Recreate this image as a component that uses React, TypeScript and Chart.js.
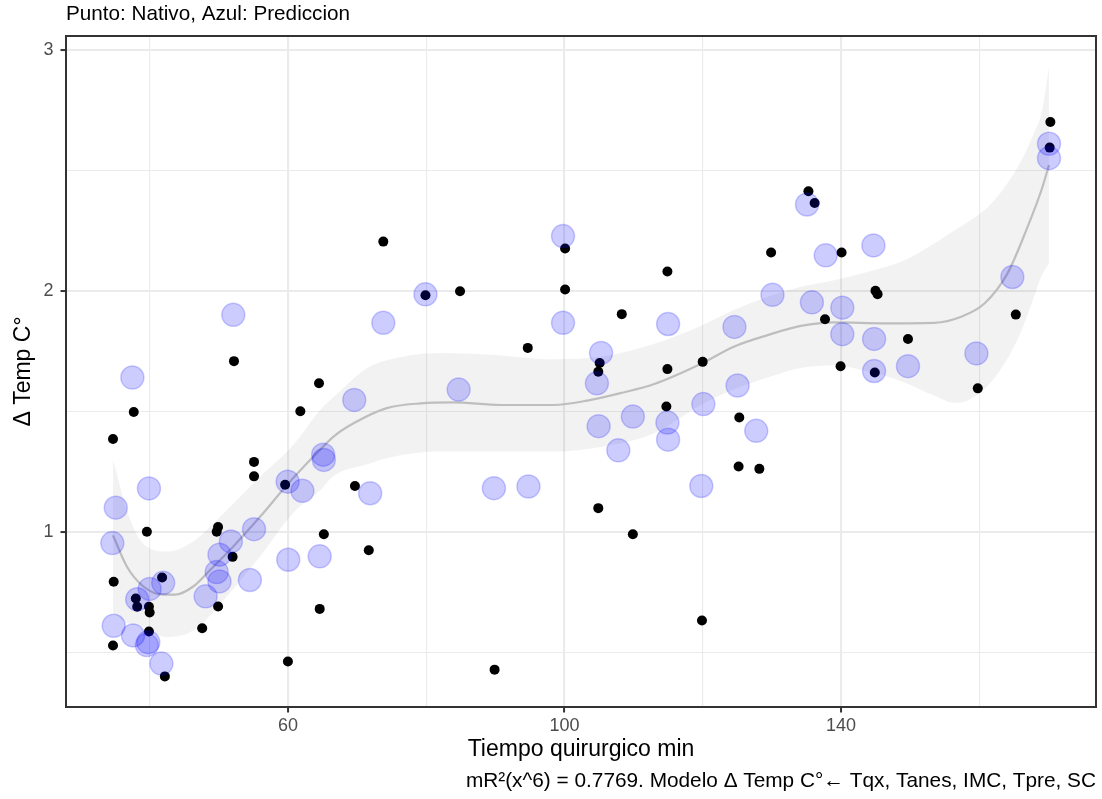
import React, { useEffect, useRef } from "react";
import { Chart, registerables } from "chart.js";

Chart.register(...registerables);

// ---------- data ----------
const nativeX = [
  34.7, 34.8, 34.7, 37.7, 38.0, 38.2, 39.6, 39.9, 40.0, 39.9, 41.8, 42.2, 47.6, 49.9, 49.9, 49.7,
  52.0, 52.2, 55.1, 55.1, 59.6, 60.0, 61.8, 64.5, 64.6, 65.2, 69.7, 71.7, 73.8, 79.9, 84.9, 89.9,
  94.7, 100.1, 100.1, 104.9, 105.1, 104.9, 108.3, 109.9, 114.9, 114.9, 114.75, 120.0, 119.9, 125.3,
  125.2, 128.2, 129.9, 135.3, 136.2, 137.7, 140.1, 139.95, 145.0, 145.3, 144.9, 149.7, 159.8, 165.3,
  170.2, 170.3,
];
const nativeY = [
  0.528, 0.793, 1.385, 1.497, 0.723, 0.689, 1.0, 0.689, 0.665, 0.586, 0.81, 0.4, 0.6, 0.69, 1.02, 1.0,
  0.896, 1.708, 1.29, 1.23, 1.195, 0.462, 1.5, 1.616, 0.68, 0.99, 1.19, 0.923, 2.204, 1.981, 1.998, 0.428,
  1.763, 2.175, 2.005, 1.098, 1.7, 1.664, 1.903, 0.99, 2.08, 1.675, 1.52, 1.705, 0.632, 1.474,
  1.271, 1.261, 2.159, 2.413, 2.364, 1.882, 2.159, 1.687, 2.0, 1.986, 1.661, 1.8, 1.595, 1.901,
  2.594, 2.7,
];

const predX = [
  37.5, 39.9, 35.1, 34.6, 34.8, 37.6, 38.2, 40.0, 41.96, 39.8, 39.6, 41.7, 48.1, 49.7, 50.1, 50.1,
  51.75, 52.1, 55.1, 54.5, 59.96, 62.1, 60.05, 65.1, 65.2, 64.6, 69.6, 71.9, 73.8, 79.9, 84.7, 89.8,
  94.8, 99.8, 99.8, 105.3, 104.7, 115.0, 109.9, 114.9, 115.0, 104.95, 120.1, 107.8, 119.8, 135.1,
  137.8, 144.7, 130.1, 135.8, 140.2, 140.2, 124.6, 144.8, 144.8, 149.7, 159.6, 164.8, 125.05, 127.75,
  170.1, 170.1,
];
const predY = [
  1.64, 1.18, 1.1, 0.953, 0.61, 0.57, 0.72, 0.763, 0.788, 0.542, 0.53, 0.453, 0.732, 0.833, 0.794, 0.905,
  0.96, 1.9, 1.011, 0.8, 1.208, 1.17, 0.884, 1.32, 1.298, 0.898, 1.547, 1.16, 1.867, 1.985, 1.59, 1.181,
  1.188, 2.227, 1.867, 1.742, 1.616, 1.862, 1.478, 1.453, 1.382, 1.438, 1.53, 1.338, 1.19, 2.358,
  2.147, 2.188, 1.983, 1.952, 1.93, 1.82, 1.85, 1.8, 1.667, 1.687, 1.74, 2.057, 1.607, 1.419,
  2.61, 2.55,
];

const smoothX = [
  34.7, 36.7, 39.1, 42.0, 43.7, 46.3, 48.8, 52.1, 56.0, 59.9, 63.7, 66.6, 69.5, 74.3, 79.2, 83.9,
  90.8, 98.5, 103.3, 108.1, 113.0, 119.7, 124.5, 129.4, 134.2, 139.0, 146.3, 153.5, 157.4, 160.8,
  164.1, 167.0, 169.0, 170.1,
];
const smoothY = [
  0.985, 0.856, 0.773, 0.739, 0.739, 0.773, 0.843, 0.939, 1.063, 1.195, 1.312, 1.395, 1.45, 1.513, 1.533, 1.537,
  1.526, 1.526, 1.544, 1.575, 1.613, 1.696, 1.768, 1.816, 1.854, 1.869, 1.865, 1.867, 1.892, 1.948,
  2.072, 2.265, 2.417, 2.521,
];

const ribbonX = [
  34.7, 36.7, 38.6, 42.5, 46.3, 51.2, 56.0, 60.8, 64.7, 66.6, 71.5, 74.3, 81.6, 88.8, 98.5, 105.7,
  113.0, 119.7, 124.5, 129.4, 134.2, 139.0, 143.9, 148.7, 153.5, 156.4, 158.4, 161.7, 165.6, 168.0,
  169.0, 170.1,
];
const ribbonUpper = [
  1.3, 1.091, 0.967, 0.918, 0.96, 1.091, 1.229, 1.361, 1.506, 1.559, 1.68, 1.712, 1.742, 1.736, 1.716, 1.728,
  1.78, 1.854, 1.92, 1.975, 2.017, 2.044, 2.079, 2.12, 2.196, 2.25, 2.286, 2.36, 2.514, 2.66,
  2.735, 2.928,
];
const ribbonLower = [
  0.665, 0.622, 0.61, 0.563, 0.59, 0.733, 0.898, 1.079, 1.172, 1.231, 1.28, 1.305, 1.333, 1.333, 1.333, 1.354,
  1.409, 1.525, 1.59, 1.64, 1.68, 1.69, 1.665, 1.625, 1.565, 1.535, 1.545, 1.62, 1.8, 1.98,
  2.06, 2.115,
];

const xTicks = [40, 60, 80, 100, 120, 140, 160];
const xTickLabels = ["", "60", "", "100", "", "140", ""];
const yTicks = [0.5, 1, 1.5, 2, 2.5, 3];
const yTickLabels = ["", "1", "", "2", "", "3"];

const titleText = "Punto: Nativo, Azul: Prediccion";
const captionText = "mR\u00b2(x^6) = 0.7769. Modelo \u0394 Temp C\u00b0\u2190 Tqx, Tanes, IMC, Tpre, SC";
const xTitle = "Tiempo quirurgico min";
const yTitle = "\u0394 Temp C\u00b0";

const FONT = "'Liberation Sans', Arial, Helvetica, sans-serif";

const zip = (xs: number[], ys: number[]) => xs.map((x, i) => ({ x, y: ys[i] }));

const panelBorder = {
  id: "panelBorder",
  afterDatasetsDraw(chart: any) {
    const { ctx, chartArea: a } = chart;
    ctx.save();
    ctx.strokeStyle = "#333333";
    ctx.lineWidth = 2;
    ctx.strokeRect(a.left, a.top, a.right - a.left, a.bottom - a.top);
    ctx.restore();
  },
};

export default function App() {
  const ref = useRef<HTMLCanvasElement | null>(null);

  useEffect(() => {
    document.body.style.margin = "0";
    const canvas = ref.current;
    if (!canvas) return;

    const isMajorX = (v: number) => xTickLabels[xTicks.indexOf(v)] !== "";
    const isMajorY = (v: number) => yTickLabels[yTicks.indexOf(v)] !== "";

    const chart = new Chart(canvas, {
      type: "scatter",
      data: {
        datasets: [
          {
            label: "Prediccion",
            data: zip(predX, predY),
            backgroundColor: "rgba(0,0,255,0.2)",
            borderColor: "rgba(0,0,255,0.2)",
            borderWidth: 1.5,
            pointRadius: 11.5,
            order: 0,
          },
          {
            label: "Nativo",
            data: zip(nativeX, nativeY),
            backgroundColor: "#000000",
            borderColor: "#000000",
            borderWidth: 0,
            pointRadius: 5,
            order: 1,
          },
          {
            label: "Ajuste",
            data: zip(smoothX, smoothY),
            showLine: true,
            borderColor: "#BEBEBE",
            borderWidth: 2.2,
            pointRadius: 0,
            cubicInterpolationMode: "monotone",
            fill: false,
            order: 2,
          },
          {
            label: "IC sup",
            data: zip(ribbonX, ribbonUpper),
            showLine: true,
            borderWidth: 0,
            borderColor: "rgba(0,0,0,0)",
            pointRadius: 0,
            cubicInterpolationMode: "monotone",
            backgroundColor: "rgba(0,0,0,0.05)",
            fill: "+1",
            order: 3,
          },
          {
            label: "IC inf",
            data: zip(ribbonX, ribbonLower),
            showLine: true,
            borderWidth: 0,
            borderColor: "rgba(0,0,0,0)",
            pointRadius: 0,
            cubicInterpolationMode: "monotone",
            fill: false,
            order: 4,
          },
        ],
      },
      options: {
        animation: false,
        responsive: false,
        devicePixelRatio: 1,
        events: [],
        layout: { autoPadding: false, padding: { left: 0, top: 0, right: 6, bottom: 0 } },
        plugins: {
          legend: { display: false },
          tooltip: { enabled: false },
          title: {
            display: true,
            text: titleText,
            align: "start",
            fullSize: false,
            color: "#000000",
            font: { family: FONT, size: 20.7, weight: "normal", lineHeight: 1.2 },
            padding: { top: 2.1, bottom: 9.06 },
          },
          subtitle: {
            display: true,
            text: captionText,
            position: "bottom",
            align: "end",
            fullSize: false,
            color: "#000000",
            font: { family: FONT, size: 20.8, weight: "normal", lineHeight: 1.2 },
            padding: { top: 1.3, bottom: 5.74 },
          },
        },
        scales: {
          x: {
            type: "linear",
            min: 27.9,
            max: 176.9,
            afterBuildTicks: (s: any) => {
              s.ticks = xTicks.map((v) => ({ value: v }));
            },
            afterFit: (s: any) => {
              s.height = 60;
            },
            border: { display: false },
            grid: {
              drawTicks: true,
              tickLength: 5.5,
              color: "#EBEBEB",
              lineWidth: (c: any) => (c.tick && isMajorX(c.tick.value) ? 2.1 : 1.1),
              tickColor: (c: any) => (c.tick && isMajorX(c.tick.value) ? "#333333" : "rgba(0,0,0,0)"),
              tickWidth: 2,
            },
            ticks: {
              autoSkip: false,
              maxRotation: 0,
              padding: 2.3,
              color: "#4D4D4D",
              font: { family: FONT, size: 18, lineHeight: 1.2 },
              callback: (v: any) => xTickLabels[xTicks.indexOf(Number(v))] ?? "",
            },
            title: {
              display: true,
              text: xTitle,
              color: "#000000",
              font: { family: FONT, size: 23, lineHeight: 1.2 },
              padding: { top: 0, bottom: 3.2 },
            },
          },
          y: {
            type: "linear",
            min: 0.273,
            max: 3.057,
            afterBuildTicks: (s: any) => {
              s.ticks = yTicks.map((v) => ({ value: v }));
            },
            afterFit: (s: any) => {
              s.width = 66;
            },
            border: { display: false },
            grid: {
              drawTicks: true,
              tickLength: 5.5,
              color: "#EBEBEB",
              lineWidth: (c: any) => (c.tick && isMajorY(c.tick.value) ? 2.1 : 1.1),
              tickColor: (c: any) => (c.tick && isMajorY(c.tick.value) ? "#333333" : "rgba(0,0,0,0)"),
              tickWidth: 2,
            },
            ticks: {
              autoSkip: false,
              padding: 7,
              color: "#4D4D4D",
              font: { family: FONT, size: 18, lineHeight: 1.2 },
              callback: (v: any) => yTickLabels[yTicks.indexOf(Number(v))] ?? "",
            },
            title: {
              display: true,
              text: yTitle,
              color: "#000000",
              font: { family: FONT, size: 23, lineHeight: 1.2 },
              padding: { top: 9.5, bottom: 0 },
            },
          },
        },
      },
      plugins: [panelBorder],
    } as any);

    return () => {
      chart.destroy();
    };
  }, []);

  return (
    <div style={{ width: 1102, height: 799 }}>
      <canvas ref={ref} width={1102} height={799} style={{ display: "block" }} />
    </div>
  );
}
